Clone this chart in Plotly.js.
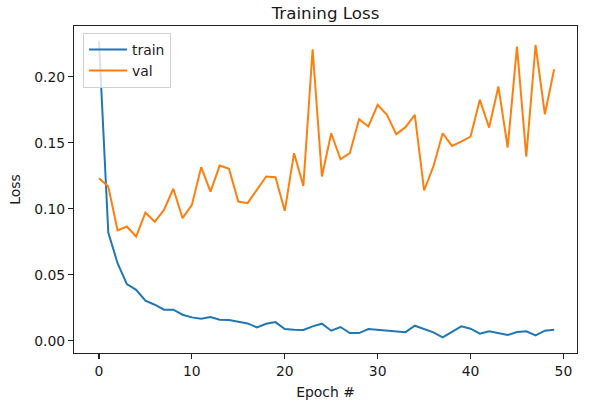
<!DOCTYPE html>
<html>
<head>
<meta charset="utf-8">
<script src="https://cdn.plot.ly/plotly-3.0.1.min.js"></script>
<style>
html,body{margin:0;padding:0;background:#fff;}
#chart{width:598px;height:415px;}
</style>
</head>
<body>
<div id="chart"></div>
<script>
const epochs = Array.from({length: 50}, (_, i) => i);
const trainLoss = [0.2270, 0.0820, 0.0588, 0.0429, 0.0386, 0.0303, 0.0273, 0.0235, 0.0235, 0.0197,
                   0.0177, 0.0167, 0.0179, 0.0159, 0.0157, 0.0146, 0.0131, 0.0101, 0.0129, 0.0141,
                   0.0088, 0.0083, 0.0081, 0.0109, 0.0129, 0.0076, 0.0104, 0.0058, 0.0058, 0.0088,
                   0.0083, 0.0073, 0.0071, 0.0065, 0.0114, 0.0091, 0.0063, 0.0025, 0.0066, 0.0109,
                   0.0091, 0.0053, 0.0071, 0.0058, 0.0043, 0.0066, 0.0071, 0.0040, 0.0076, 0.0083];
const valLoss = [0.1232, 0.1169, 0.0836, 0.0866, 0.0790, 0.0972, 0.0902, 0.0992, 0.1152, 0.0929,
                 0.1030, 0.1316, 0.1131, 0.1328, 0.1303, 0.1055, 0.1043, 0.1144, 0.1245, 0.1240,
                 0.0985, 0.1422, 0.1174, 0.2210, 0.1245, 0.1573, 0.1376, 0.1422, 0.1679, 0.1624,
                 0.1788, 0.1712, 0.1566, 0.1619, 0.1712, 0.1139, 0.1321, 0.1573, 0.1477, 0.1510,
                 0.1548, 0.1826, 0.1616, 0.1927, 0.1465, 0.2230, 0.1396, 0.2242, 0.1717, 0.2058];
const xTicks = [0, 10, 20, 30, 40, 50];
const yTicks = [0.00, 0.05, 0.10, 0.15, 0.20];
const seriesNames = ['train', 'val'];

const font = {family: 'DejaVu Sans, sans-serif', size: 13.9, color: '#1a1a1a'};

const traces = [
  {x: epochs, y: trainLoss, name: seriesNames[0], type: 'scatter', mode: 'lines',
   line: {color: '#1f77b4', width: 2}},
  {x: epochs, y: valLoss, name: seriesNames[1], type: 'scatter', mode: 'lines',
   line: {color: '#ff7f0e', width: 2}}
];

const axisCommon = {
  showline: true, mirror: true, linecolor: '#222', linewidth: 1.1,
  ticks: 'outside', ticklen: 5, tickwidth: 1.1, tickcolor: '#222',
  showgrid: false, zeroline: false, tickfont: font
};

const layout = {
  width: 598, height: 415,
  paper_bgcolor: '#fff', plot_bgcolor: '#fff',
  font: font,
  margin: {l: 74, r: 21, t: 26, b: 62, pad: 0},
  title: {text: 'Training Loss', font: {family: 'DejaVu Sans, sans-serif', size: 16.7, color: '#1a1a1a'},
          x: 0.5, xref: 'paper', y: 1 - 13/415, yref: 'container', yanchor: 'middle'},
  xaxis: Object.assign({}, axisCommon, {
    range: [-2.69, 51.46], tickvals: xTicks, ticktext: xTicks.map(String),
    title: {text: 'Epoch #', font: font, standoff: 9}
  }),
  yaxis: Object.assign({}, axisCommon, {
    range: [-0.0093, 0.2386], tickvals: yTicks, ticktext: yTicks.map(v => v.toFixed(2)),
    title: {text: 'Loss', font: font, standoff: 10}
  }),
  showlegend: true,
  legend: {x: 0.018, y: 0.979, xanchor: 'left', yanchor: 'top',
           bgcolor: 'rgba(255,255,255,0.8)', bordercolor: '#d0d0d0', borderwidth: 1,
           font: font, tracegroupgap: 0, itemwidth: 38}
};

Plotly.newPlot('chart', traces, layout, {displayModeBar: false, staticPlot: true});
</script>
</body>
</html>
